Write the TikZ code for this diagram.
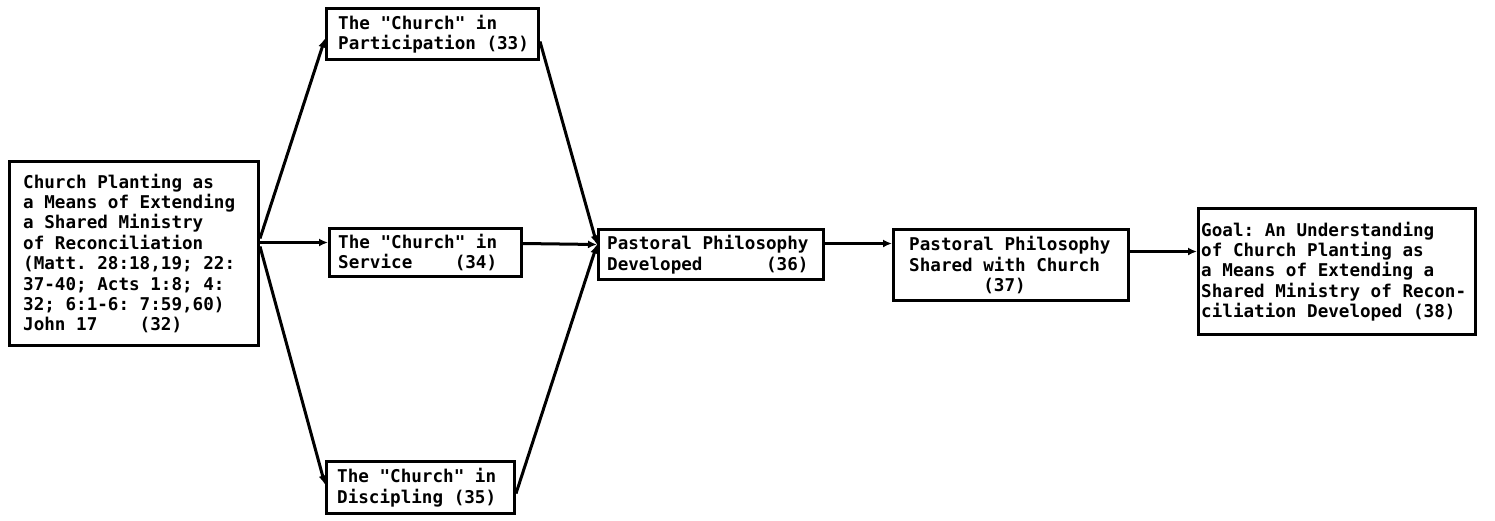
\documentclass[tikz,border=0pt]{standalone}
\usepackage{fontspec}
\setmainfont{DejaVu Sans Mono}[Ligatures=TeXOff]
\usetikzlibrary{arrows.meta,calc}
\begin{document}
\frenchspacing
\begin{tikzpicture}[x=1pt,y=-1pt,
  box/.style={draw,line width=3pt,inner sep=0pt,anchor=north west},
  txt/.style={inner sep=0pt,align=left,anchor=west,font=\fontsize{17.6}{20.4}\selectfont\bfseries\frenchspacing},
  arr/.style={line width=3pt,-{Latex[length=9pt,width=8pt]}}]
\useasboundingbox (0,0) rectangle (1495,520);
% boxes
\node[box,minimum width=249pt,minimum height=184pt] (b32) at (8,160) {};
\node[box,minimum width=212pt,minimum height=51pt] (b33) at (325,7) {};
\node[box,minimum width=192pt,minimum height=48pt] (b34) at (328,227) {};
\node[box,minimum width=188pt,minimum height=52pt] (b35) at (325,460) {};
\node[box,minimum width=225pt,minimum height=50pt] (b36) at (597,228) {};
\node[box,minimum width=235pt,minimum height=71pt] (b37) at (892,228) {};
\node[box,minimum width=277pt,minimum height=126pt] (b38) at (1197,207) {};
% texts
\node[txt] (t32) at ([xshift=15pt]b32.west) {Church Planting as\\a Means of Extending\\a Shared Ministry\\of Reconciliation\\(Matt. 28:18,19; 22:\\37-40; Acts 1:8; 4:\\32; 6:1-6: 7:59,60)\\John 17\ \ \ \ (32)};
\node[txt] (t33) at ([xshift=13pt]b33.west) {The "Church" in\\Participation (33)};
\node[txt] (t34) at ([xshift=10pt]b34.west) {The "Church" in\\Service\ \ \ \ (34)};
\node[txt] (t35) at ([xshift=12pt]b35.west) {The "Church" in\\Discipling (35)};
\node[txt] (t36) at ([xshift=10pt]b36.west) {Pastoral Philosophy\\Developed\ \ \ \ \ \ (36)};
\node[txt] (t37) at ([xshift=17pt]b37.west) {Pastoral Philosophy\\Shared with Church\\\phantom{xxxxxxx}(37)};
\node[txt] (t38) at ([xshift=4pt]b38.west) {Goal: An Understanding\\of Church Planting as\\a Means of Extending a\\Shared Ministry of Recon-\\ciliation Developed (38)};
% connectors
\draw[arr] ([yshift=15pt]b32.east) -- ([yshift=-4.5pt]b33.west);
\draw[arr] ([yshift=11pt]b32.east) -- ([yshift=10pt]b34.west);
\draw[arr] ([yshift=7pt]b32.east) -- ([yshift=3pt]b35.west);
\draw[arr] ([yshift=-7.5pt]b33.east) -- ([yshift=10pt]b36.west);
\draw[arr] ([yshift=9pt]b34.east) -- ([yshift=10pt]b36.west);
\draw[arr] ([yshift=-6pt]b35.east) -- ([yshift=10pt]b36.west);
\draw[arr] ([yshift=11pt]b36.east) -- ([yshift=21.5pt]b37.west);
\draw[arr] ([yshift=13.5pt]b37.east) -- ([yshift=20pt]b38.west);
\end{tikzpicture}
\end{document}
